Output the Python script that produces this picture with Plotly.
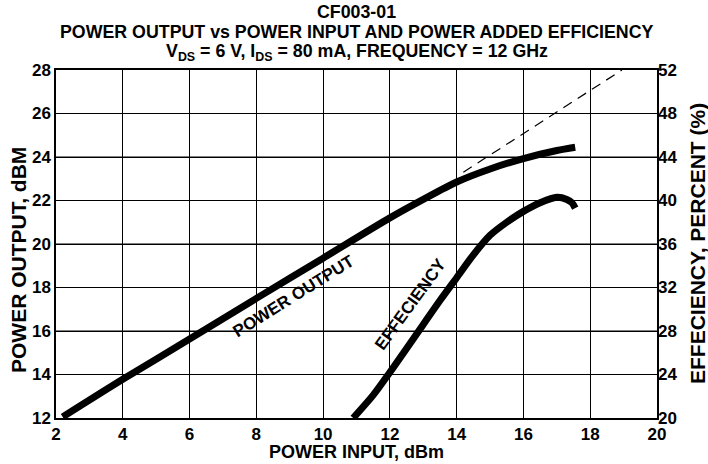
import plotly.graph_objects as go

# Power output curve (left axis)
pin_pout = [2.2, 4, 6, 8, 10, 12, 13, 14, 15, 16, 17, 17.55]
pout = [12.05, 13.78, 15.63, 17.5, 19.35, 21.2, 22.05, 22.85, 23.45, 23.93, 24.3, 24.45]

# Linear extrapolation (dashed)
pin_lin = [14.2, 18.95]
pout_lin = [23.3, 28.0]

# Efficiency curve (right axis)
pin_eff = [10.9, 11.5, 12, 12.5, 13, 13.5, 14, 14.5, 15, 15.5, 16, 16.5, 17.0, 17.3, 17.45, 17.55]
eff = [20.0, 22.1, 24.2, 26.4, 28.6, 30.8, 32.9, 35.0, 36.8, 38.0, 39.0, 39.8, 40.3, 40.1, 39.8, 39.3]

x_ticks = [2, 4, 6, 8, 10, 12, 14, 16, 18, 20]
y_ticks = [12, 14, 16, 18, 20, 22, 24, 26, 28]
y2_ticks = [20, 24, 28, 32, 36, 40, 44, 48, 52]

FONT = "Liberation Sans"

# Horizontal grid lines built from the left-axis ticks (one line trace, None-separated)
grid_x, grid_y = [], []
for v in y_ticks[1:-1]:
    grid_x += [x_ticks[0], x_ticks[-1], None]
    grid_y += [v, v, None]

fig = go.Figure()
fig.add_trace(go.Scatter(x=grid_x, y=grid_y, mode="lines",
                         line=dict(color="black", width=1.1),
                         showlegend=False, hoverinfo="skip", connectgaps=False))
fig.add_trace(go.Scatter(x=pin_pout, y=pout, mode="lines",
                         line=dict(color="black", width=7, shape="spline", smoothing=0.8),
                         showlegend=False, hoverinfo="skip"))
fig.add_trace(go.Scatter(x=pin_lin, y=pout_lin, mode="lines",
                         line=dict(color="black", width=1.2, dash="10px,7px"),
                         showlegend=False, hoverinfo="skip"))
fig.add_trace(go.Scatter(x=pin_eff, y=eff, mode="lines", yaxis="y2",
                         line=dict(color="black", width=7, shape="spline", smoothing=0.8),
                         showlegend=False, hoverinfo="skip"))

tickfont = dict(family=FONT, size=17, color="black", weight="bold")

fig.update_layout(
    width=708, height=464,
    margin=dict(l=56, r=51, t=70, b=46),
    paper_bgcolor="white", plot_bgcolor="white",
    font=dict(family=FONT, color="black"),
    xaxis=dict(range=[2, 20], tickvals=x_ticks, ticktext=[str(v) for v in x_ticks],
               showgrid=True, gridcolor="black", gridwidth=1,
               showline=True, linecolor="black", linewidth=1.5, mirror=True,
               ticks="", tickfont=tickfont, zeroline=False),
    yaxis=dict(range=[12, 28], tickvals=y_ticks, ticktext=[str(v) for v in y_ticks],
               showgrid=True, gridcolor="black", gridwidth=1,
               showline=True, linecolor="black", linewidth=1.5, mirror=True,
               ticks="", tickfont=tickfont, zeroline=False),
    yaxis2=dict(range=[20, 52], tickvals=y2_ticks, ticktext=[str(v) for v in y2_ticks],
                overlaying="y", side="right", showgrid=False,
                zeroline=False, ticks="", tickfont=tickfont),
)

title_font = dict(family=FONT, size=17.8, color="black", weight="bold")
fig.add_annotation(text="CF003-01", xref="paper", yref="paper", x=0.5, y=1, xanchor="center",
                   yanchor="bottom", yshift=46, showarrow=False, font=title_font)
fig.add_annotation(text="POWER OUTPUT vs POWER INPUT AND POWER ADDED EFFICIENCY",
                   xref="paper", yref="paper", x=0.5, y=1, xanchor="center",
                   yanchor="bottom", yshift=26, showarrow=False, font=title_font)
fig.add_annotation(text="V<sub>DS</sub> = 6 V, I<sub>DS</sub> = 80 mA, FREQUENCY = 12 GHz",
                   xref="paper", yref="paper", x=0.5, y=1, xanchor="center",
                   yanchor="bottom", yshift=4, showarrow=False, font=title_font)

axis_title_font = dict(family=FONT, size=18, color="black", weight="bold")
fig.add_annotation(text="POWER INPUT, dBm", xref="paper", yref="paper", x=0.5, y=0,
                   xanchor="center", yanchor="middle", yshift=-34, showarrow=False,
                   font=axis_title_font)
side_title_font = dict(family=FONT, size=21, color="black", weight="bold")
fig.add_annotation(text="POWER OUTPUT, dBM", xref="paper", yref="paper", x=0, y=0.5,
                   xanchor="center", yanchor="middle", xshift=-38, yshift=-16,
                   textangle=-90, showarrow=False, font=side_title_font)
fig.add_annotation(text="EFFECIENCY, PERCENT (%)", xref="paper", yref="paper", x=1, y=0.5,
                   xanchor="center", yanchor="middle", xshift=40, yshift=0,
                   textangle=-90, showarrow=False, font=side_title_font)

label_font = dict(family=FONT, size=17, color="black", weight="bold")
fig.add_annotation(text="POWER OUTPUT", x=9.1, y=17.6, xref="x", yref="y",
                   showarrow=False, textangle=-32, font=label_font)
fig.add_annotation(text="EFFECIENCY", x=12.62, y=30.4, xref="x", yref="y2",
                   showarrow=False, textangle=-54, font=label_font)

# Remove the browser's default 8px body margin so the figure fills the window.
fig.write_html("out.html", config={"displayModeBar": False},
               post_script="document.body.style.margin='0';")
